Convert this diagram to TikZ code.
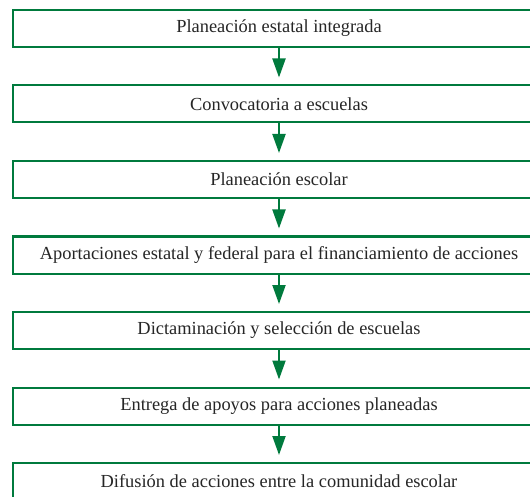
\documentclass[tikz,border=0pt]{standalone}
\usepackage{fontspec}
\setmainfont{Liberation Serif}
\usetikzlibrary{arrows.meta,positioning}
\definecolor{stepgreen}{RGB}{0,122,61}
\tikzset{
    stage/.style={rectangle, draw=stepgreen, line width=2pt, fill=white,
                  minimum width=532pt, minimum height=37pt, inner sep=0pt,
                  font=\fontsize{18.4}{21}\selectfont, text=black!85},
    flow/.style={draw=stepgreen, line width=2pt,
                 -{Triangle[width=13pt,length=19pt]}, shorten >=7pt},
}
\begin{document}
\begin{tikzpicture}[node distance=36.5pt]
    \clip (0,0) rectangle (530pt,-497pt);
    \useasboundingbox (0,0) rectangle (530pt,-497pt);
    \node [stage] (plan) at (279pt,-28.5pt) {Planeación estatal integrada};
    \node [stage, below=of plan]   (conv)   {Convocatoria a escuelas};
    \node [stage, below=of conv]   (escol)  {Planeación escolar};
    \node [stage, below=of escol]  (aport)  {Aportaciones estatal y federal para el financiamiento de acciones};
    \node [stage, below=of aport]  (dict)   {Dictaminación y selección de escuelas};
    \node [stage, below=of dict]   (entr)   {Entrega de apoyos para acciones planeadas};
    \node [stage, below=of entr]   (difus)  {Difusión de acciones entre la comunidad escolar};
    \foreach \a/\b in {plan/conv, conv/escol, escol/aport, aport/dict, dict/entr, entr/difus}
        \draw[flow] (\a) -- (\b);
\end{tikzpicture}
\end{document}
